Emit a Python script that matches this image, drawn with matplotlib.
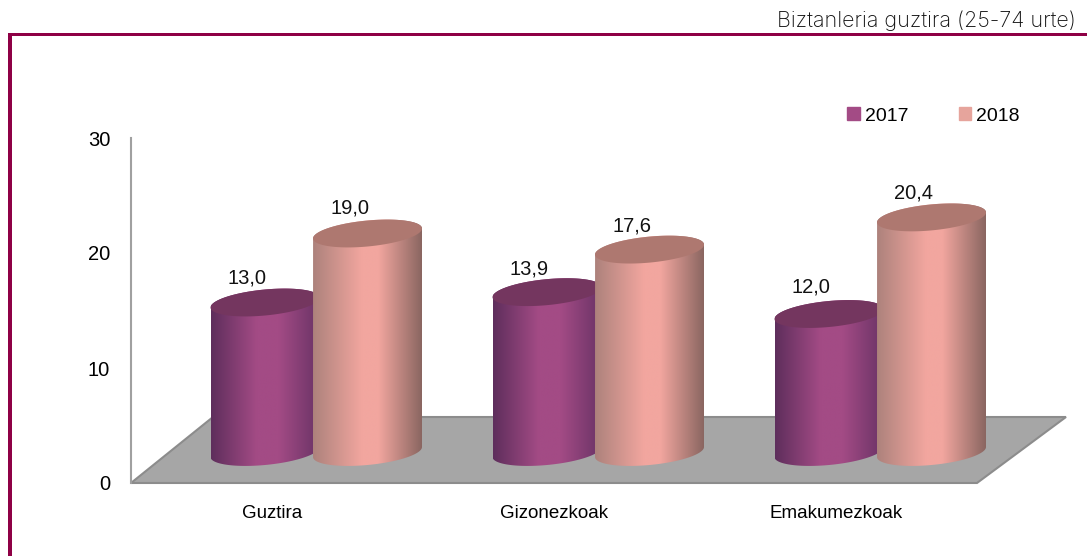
import numpy as np
import matplotlib
matplotlib.use("Agg")
import matplotlib.pyplot as plt
from matplotlib.colors import LinearSegmentedColormap
from matplotlib.patches import Patch, Polygon, Rectangle

categories = ["Guztira", "Gizonezkoak", "Emakumezkoak"]
series_names = ["2017", "2018"]
values_2017 = [13.0, 13.9, 12.0]
values_2018 = [19.0, 17.6, 20.4]
y_ticks = [0, 10, 20, 30]
subtitle = "Biztanleria guztira (25-74 urte)"

W, H = 1087, 556
plt.rcParams["font.family"] = ["Liberation Sans"]

fig = plt.figure(figsize=(W / 100, H / 100), dpi=100)
ax = fig.add_axes([131 / W, (H - 483) / H, (977 - 131) / W, 345 / H])
ax.set_xlim(-0.5, 2.5)
ax.set_ylim(0, 30)

# pixel sizes in data units
px = 3 / 846
py = 30 / 345

# brand frame
frame = "#8E0045"
fig.add_artist(Rectangle((8 / W, 1 - 36 / H), (W - 8) / W, 3.5 / H, transform=fig.transFigure, color=frame, lw=0))
fig.add_artist(Rectangle((8 / W, 0), 4 / W, 1 - 33 / H, transform=fig.transFigure, color=frame, lw=0))
fig.text(1076 / W, 1 - 21 / H, subtitle, ha="right", va="center", fontsize=15.5, color="#111111",
         family=["Inter", "DejaVu Sans"], fontweight="light")

# floor
floor = [(-0.5, 0), (2.5, 0), (2.5 + 89 * px, 66 * py), (-0.5 + 82 * px, 66 * py)]
ax.add_patch(Polygon(floor, closed=True, fc="#A6A6A6", ec="#8C8C8C", lw=1.5, clip_on=False, zorder=1))


def draw_cylinder(xc, value, stops, top_color, label, label_dy):
    rx, tilt, ry = 54.5 * px, 5 * py, 13 * py
    base = 31 * py
    t = np.linspace(0, 2 * np.pi, 121)
    ex = rx * np.cos(t)
    ey = tilt * np.cos(t) + ry * np.sin(t)

    # body outline: front half of the base, then up and along the top ellipse
    front = t >= np.pi
    bx = xc + ex[front]
    by = base + ey[front]
    tx = xc + ex[~front]
    ty = base + value + ey[~front]
    body = Polygon(np.c_[np.r_[bx, tx], np.r_[by, ty]], closed=True, transform=ax.transData, fc="none", ec="none")
    ax.add_patch(body)
    body.set_clip_on(False)

    cmap = LinearSegmentedColormap.from_list("c", stops)
    grad = np.linspace(0, 1, 256).reshape(1, -1)
    im = ax.imshow(grad, cmap=cmap, aspect="auto", extent=(xc - rx, xc + rx, base - 20 * py, base + value + 20 * py),
                   zorder=2, interpolation="bilinear")
    im.set_clip_path(body)
    im.set_clip_box(fig.bbox)
    ax.add_patch(Polygon(np.c_[xc + ex, base + value + ey], closed=True, fc=top_color, ec="none", zorder=2, clip_on=False))
    ax.annotate(label, (xc - 18 * px, base + value), xytext=(0, label_dy * 0.72), textcoords="offset points",
                ha="center", va="center", fontsize=14.5, color="#111111", zorder=5, annotation_clip=False)


purple_stops = [(0, "#5E2E5C"), (0.42, "#A34B85"), (0.62, "#A34B85"), (1, "#6A3366")]
pink_stops = [(0, "#AD827C"), (0.45, "#F2A69F"), (0.6, "#F2A69F"), (1, "#8A6661")]
label_dy_2017 = [25, 23, 27]
label_dy_2018 = [26, 24, 24]
for i in range(len(categories)):
    draw_cylinder(i - 7 * px, values_2017[i], purple_stops, "#74365F",
                  f"{values_2017[i]:.1f}".replace(".", ","), label_dy_2017[i])
    draw_cylinder(i + 95.5 * px, values_2018[i], pink_stops, "#AE7870",
                  f"{values_2018[i]:.1f}".replace(".", ","), label_dy_2018[i])

ax.set_xlim(-0.5, 2.5)
ax.set_ylim(0, 30)
ax.set_xticks(range(len(categories)))
ax.set_xticklabels(categories)
ax.set_yticks(y_ticks)
ax.tick_params(axis="x", length=0, pad=16, labelsize=13.5)
ax.tick_params(axis="y", length=0, pad=15, labelsize=14.5)
for s in ["top", "right", "bottom"]:
    ax.spines[s].set_visible(False)
ax.spines["left"].set_color("#A0A0A0")
ax.spines["left"].set_linewidth(1.5)
ax.patch.set_alpha(0)

handles = [Patch(color="#A34B85"), Patch(color="#E6A49C")]
ax.legend(handles, series_names, ncols=2, frameon=False, fontsize=14, loc="center left",
          bbox_to_anchor=((847 - 131) / 846, (483 - 116) / 345), handlelength=0.65, handleheight=0.65,
          handletextpad=0.25, columnspacing=2.6, borderpad=0, borderaxespad=0)

fig.savefig("out.png", dpi=100, facecolor="white")
